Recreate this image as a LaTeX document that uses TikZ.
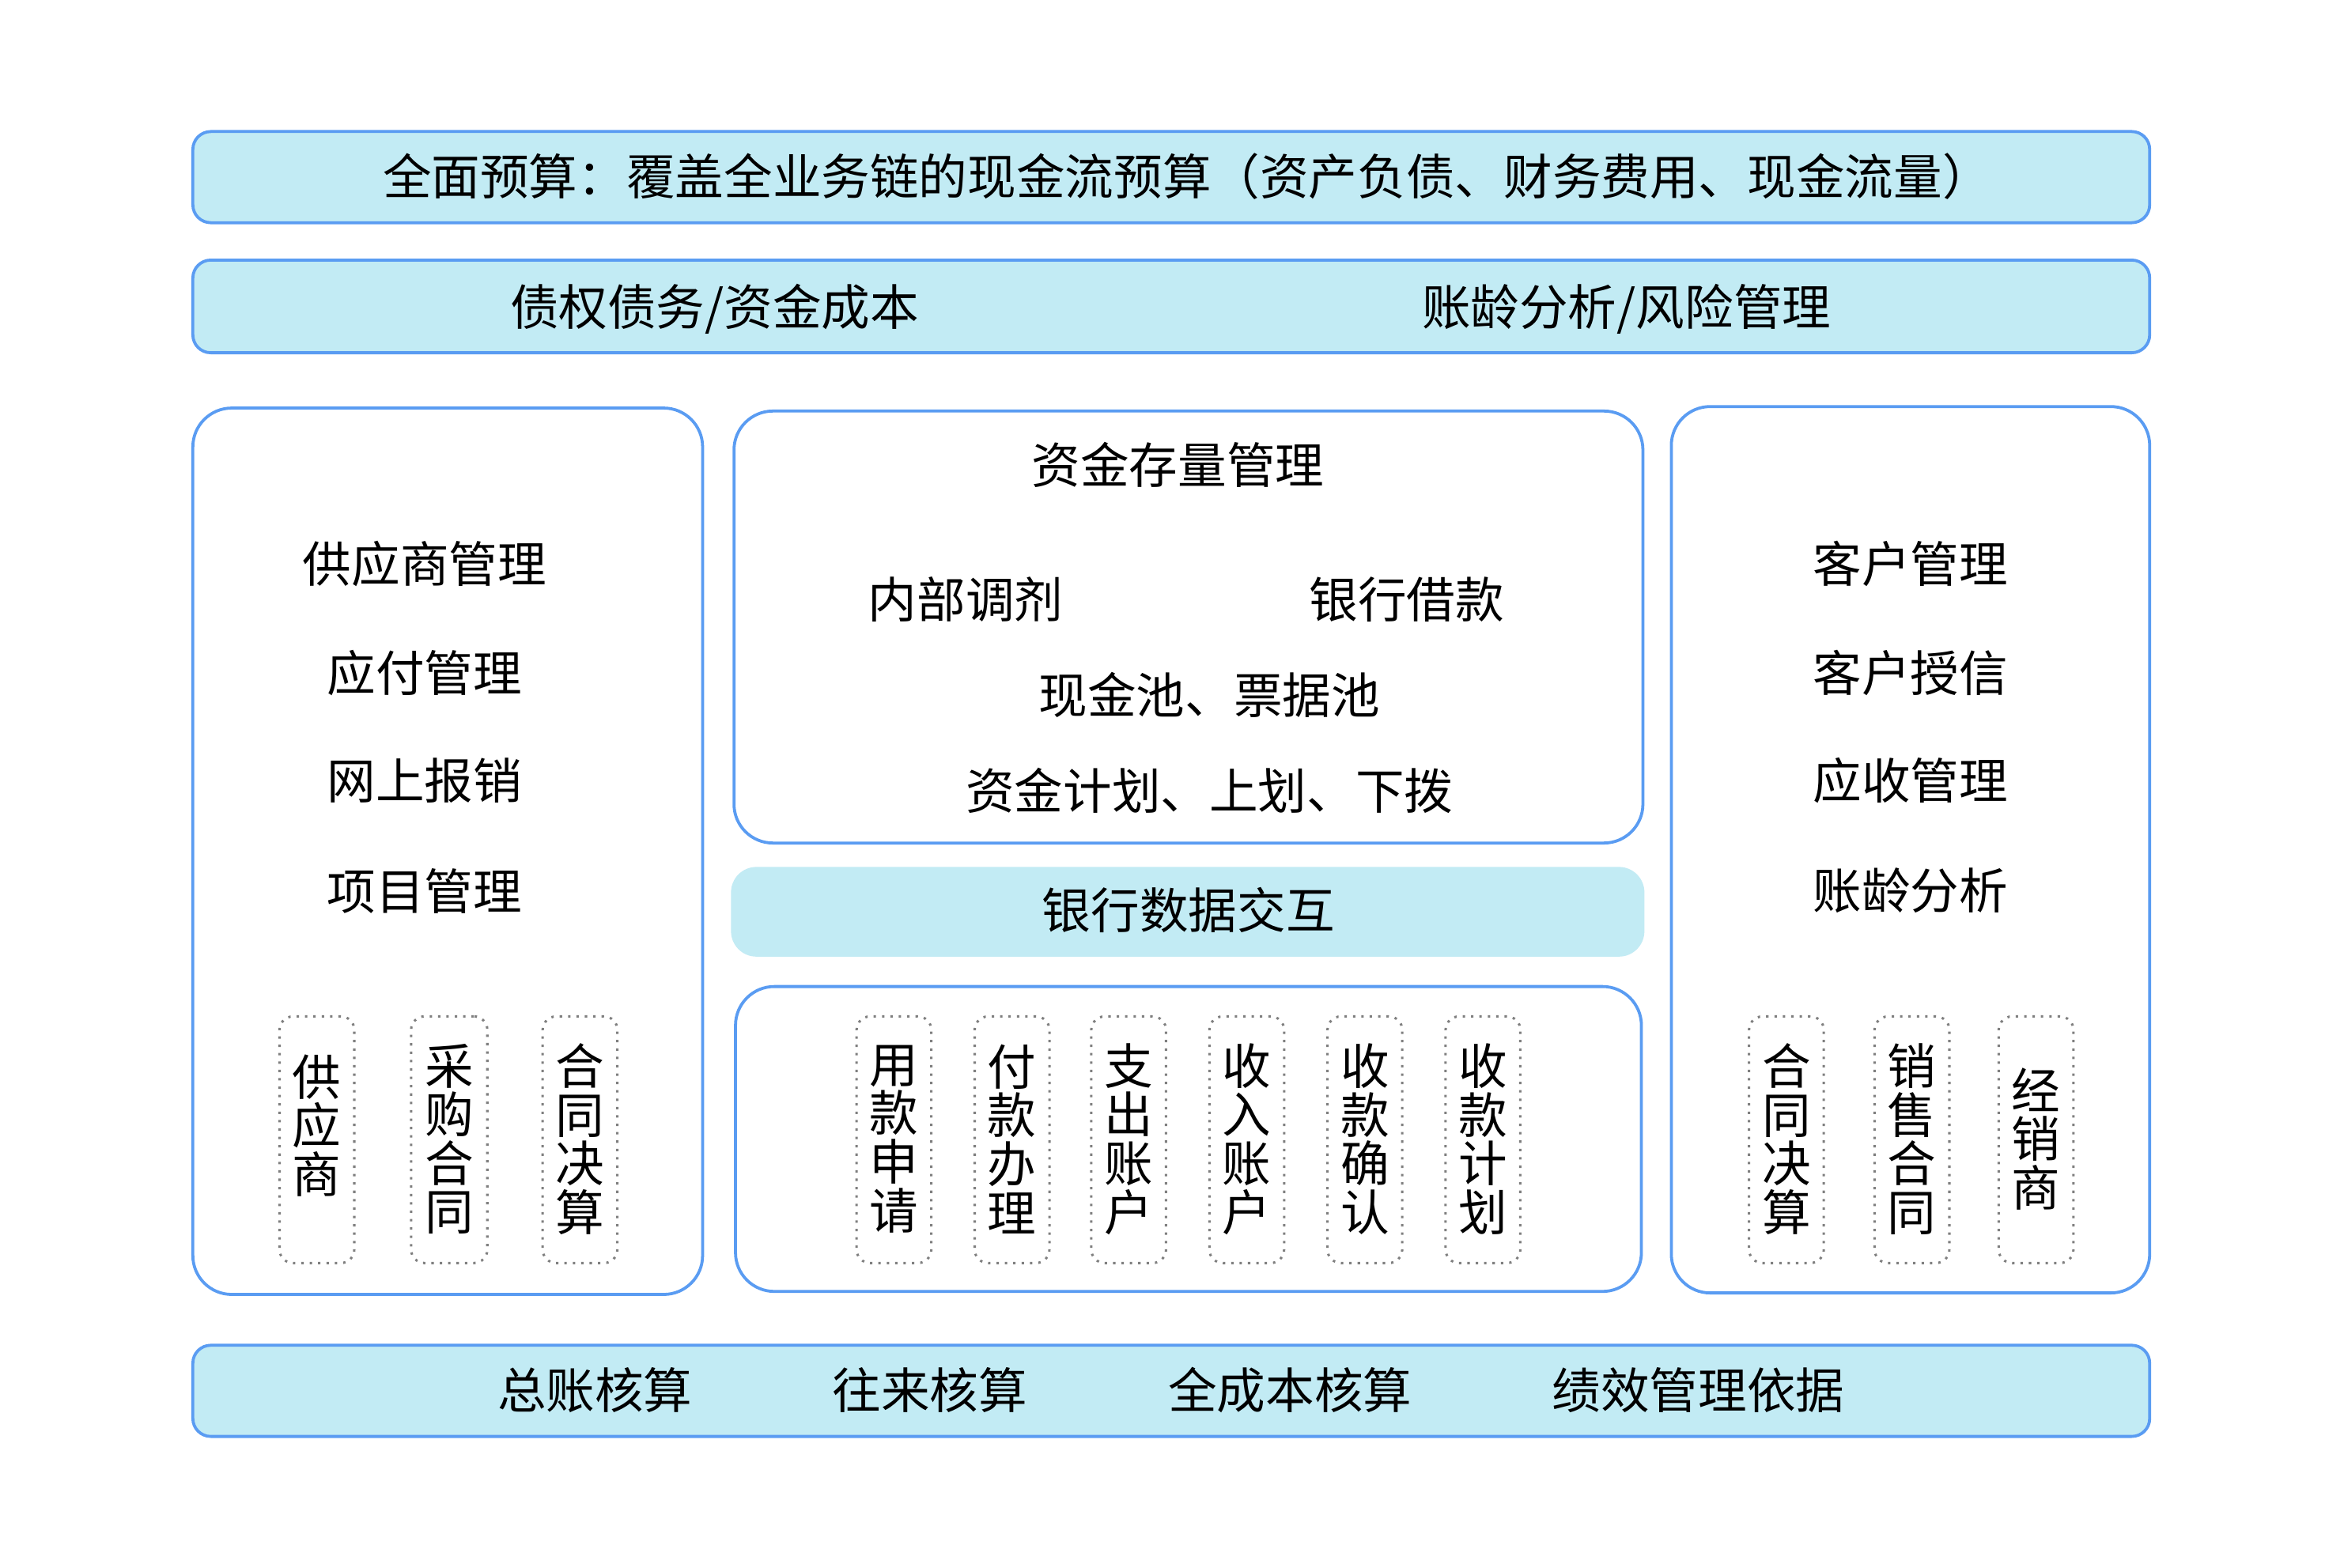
\documentclass[tikz,border=0pt]{standalone}
\usepackage{fontspec}
\newfontfamily\cjk{Noto Sans CJK SC}
\usetikzlibrary{fit}
\definecolor{bandfill}{HTML}{C2EBF4}
\definecolor{edgeblue}{HTML}{5A9CF2}
\definecolor{dotgray}{HTML}{7F7F7F}
\begin{document}
\begin{tikzpicture}[x=0.5pt,y=-0.5pt,
  band/.style={fill=bandfill,draw=edgeblue,line width=1pt,rounded corners=6pt,inner sep=0pt},
  bankband/.style={fill=bandfill,rounded corners=8.5pt,inner sep=0pt},
  panel/.style={draw=edgeblue,fill=white,line width=1pt,rounded corners=13pt,inner sep=0pt},
  vbox/.style={draw=dotgray,dotted,line width=0.8pt,rounded corners=4.5pt,inner sep=0pt},
  txt/.style={font=\cjk\fontsize{16.3}{16.3}\selectfont,inner sep=0pt,align=center},
]
\fill[white] (0,0) rectangle (1568,1049);
\useasboundingbox (0,0) rectangle (1568,1049);

% bands
\node[band,fit={(129,88) (1438,149)}] (top) {};
\node[txt] (toptxt) at (794,118) {全面预算：覆盖全业务链的现金流预算（资产负债、财务费用、现金流量）};
\node[band,fit={(129,174) (1438,236)}] (second) {};
\node[txt] (s1) at (478,207) {债权债务/资金成本};
\node[txt] (s2) at (1088,207) {账龄分析/风险管理};
\node[band,fit={(129,900) (1438,961)}] (bottom) {};
\node[txt] (b1) at (398,930) {总账核算};
\node[txt] (b2) at (622,930) {往来核算};
\node[txt] (b3) at (863,930) {全成本核算};
\node[txt] (b4) at (1136,930) {绩效管理依据};

% panels
\node[panel,fit={(129,273) (470,866)}] (left) {};
\node[panel,fit={(491,275) (1099,564)}] (midtop) {};
\node[bankband,fit={(489,580) (1100,640)}] (bank) {};
\node[txt] (banktxt) at (795,609) {银行数据交互};
\node[panel,fit={(492,660) (1098,864)}] (midbot) {};
\node[panel,fit={(1118,272) (1438,865)}] (right) {};

% left panel
\node[txt] (l1) at (284,377) {供应商管理};
\node[txt] (l2) at (284,450) {应付管理};
\node[txt] (l3) at (284,522) {网上报销};
\node[txt] (l4) at (284,596) {项目管理};
\node[vbox,fit={(187,680) (237,845)}] (lv1) {};
\node[vbox,fit={(275,680) (326,845)}] (lv2) {};
\node[vbox,fit={(363,680) (413,845)}] (lv3) {};
\node[txt] at (212,753) {供\\应\\商};
\node[txt] at (300.5,762) {采\\购\\合\\同};
\node[txt] at (388,762) {合\\同\\决\\算};

% middle top
\node[txt] (m0) at (788,311) {资金存量管理};
\node[txt] (m1) at (646,401) {内部调剂};
\node[txt] (m2) at (941,401) {银行借款};
\node[txt] (m3) at (809,465) {现金池、票据池};
\node[txt] (m4) at (809,529) {资金计划、上划、下拨};

% middle bottom
\foreach \cx/\t [count=\i] in {598/{用\\款\\申\\请},677/{付\\款\\办\\理},755/{支\\出\\账\\户},834/{收\\入\\账\\户},913/{收\\款\\确\\认},992/{收\\款\\计\\划}}{
  \node[vbox,fit={(\cx-25,680) (\cx+25,845)}] (mv\i) {};
  \node[txt] (mt\i) at (\cx,762) {\t};
}

% right panel
\node[txt] (r1) at (1278,377) {客户管理};
\node[txt] (r2) at (1278,450) {客户授信};
\node[txt] (r3) at (1278,522) {应收管理};
\node[txt] (r4) at (1278,596) {账龄分析};
\node[vbox,fit={(1170,680) (1220,845)}] (rv1) {};
\node[vbox,fit={(1254,680) (1304,845)}] (rv2) {};
\node[vbox,fit={(1337,680) (1387,845)}] (rv3) {};
\node[txt] at (1195,762) {合\\同\\决\\算};
\node[txt] at (1279,762) {销\\售\\合\\同};
\node[txt] at (1362,762) {经\\销\\商};
\end{tikzpicture}
\end{document}
